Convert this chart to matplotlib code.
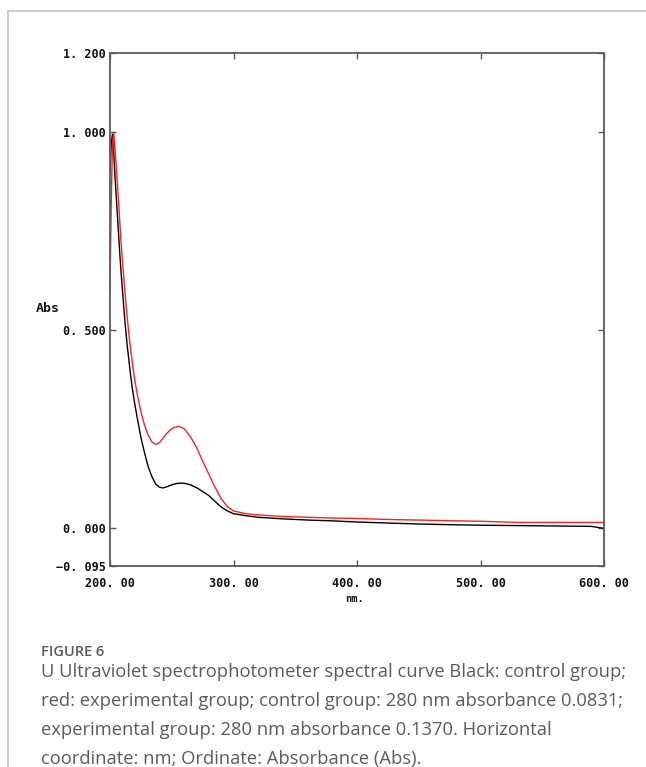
#!/usr/bin/env python3
"""UV spectrophotometer curves: control (black) vs experimental (red)."""

import matplotlib
matplotlib.use("Agg")
import matplotlib.pyplot as plt
from matplotlib.lines import Line2D

W, H = 646, 767

wavelength = [200, 201, 202, 203, 204, 205, 206, 207, 208, 209, 210, 212, 214, 216, 218,
              220, 222, 225, 228, 231, 234, 237, 240, 243, 246, 250, 255, 260, 265, 270,
              275, 280, 285, 290, 295, 300, 310, 320, 340, 360, 380, 400, 430, 450, 480,
              500, 530, 560, 590, 600]
control = [0.90, 0.97, 0.995, 0.95, 0.89, 0.84, 0.79, 0.74, 0.69, 0.645, 0.605, 0.525, 0.46,
           0.405, 0.355, 0.315, 0.28, 0.23, 0.19, 0.155, 0.13, 0.112, 0.104, 0.102, 0.105,
           0.110, 0.114, 0.114, 0.110, 0.103, 0.093, 0.083, 0.068, 0.054, 0.044, 0.037,
           0.032, 0.028, 0.024, 0.021, 0.019, 0.016, 0.013, 0.011, 0.009, 0.008, 0.007,
           0.006, 0.005, 0.0]
experimental = [0.60, 0.82, 0.97, 1.00, 0.96, 0.92, 0.87, 0.82, 0.77, 0.72, 0.68, 0.60, 0.53,
                0.47, 0.42, 0.375, 0.34, 0.295, 0.26, 0.235, 0.218, 0.212, 0.216, 0.228,
                0.24, 0.252, 0.258, 0.252, 0.232, 0.205, 0.17, 0.137, 0.104, 0.075, 0.055,
                0.044, 0.037, 0.034, 0.030, 0.028, 0.026, 0.025, 0.022, 0.021, 0.019, 0.018,
                0.015, 0.015, 0.015, 0.015]

x_ticks = [200, 300, 400, 500, 600]
x_tick_labels = ["200. 00", "300. 00", "400. 00", "500. 00", "600. 00"]
y_ticks = [-0.095, 0.0, 0.5, 1.0, 1.2]
y_tick_labels = ["\u22120. 095", "0. 000", "0. 500", "1. 000", "1. 200"]

caption_head = "FIGURE 6"
caption_body = ("U Ultraviolet spectrophotometer spectral curve Black: control group;\n"
                "red: experimental group; control group: 280 nm absorbance 0.0831;\n"
                "experimental group: 280 nm absorbance 0.1370. Horizontal\n"
                "coordinate: nm; Ordinate: Absorbance (Abs).")


def fx(px):
    return px / W


def fy(py):
    return 1 - py / H


fig = plt.figure(figsize=(W / 100, H / 100), dpi=100)

# page frame: thin grey rule on top and left
fig.add_artist(Line2D([fx(8), 1], [fy(11), fy(11)], color="#c4c4c4", lw=1.2))
fig.add_artist(Line2D([fx(8), fx(8)], [fy(11), 0], color="#c4c4c4", lw=1.2))

ax = fig.add_axes([fx(110), fy(566), fx(604) - fx(110), fy(53) - fy(566)])
ax.plot(wavelength, control, color="black", lw=1.0)
ax.plot(wavelength, experimental, color="#ff2020", lw=1.0)

ax.set_xlim(200, 600)
ax.set_ylim(-0.095, 1.2)
for s in ax.spines.values():
    s.set_color("#5a5a5a")
    s.set_linewidth(1.3)

tick_font = {"family": "DejaVu Sans Mono", "weight": "bold", "size": 8.5}
ax.set_xticks(x_ticks)
ax.set_xticklabels(x_tick_labels, fontdict=tick_font, color="#111111")
ax.set_yticks(y_ticks)
ax.set_yticklabels(y_tick_labels, fontdict=tick_font, color="#111111")
ax.tick_params(direction="in", length=4, width=1, color="#5a5a5a",
               top=True, right=True)
ax.tick_params(axis="x", pad=8)
ax.tick_params(axis="y", pad=3)

fig.text(fx(48), fy(309), "Abs", ha="center", va="center", family="DejaVu Sans Mono",
         weight="bold", size=9.5, color="#111111")
fig.text(fx(354), fy(599), "nm.", ha="center", va="center", family="DejaVu Sans Mono",
         weight="bold", size=7.5, color="#111111")

fig.text(fx(41), fy(652), caption_head, ha="left", va="center", family="Open Sans",
         weight="semibold", size=10.5, color="#5b5b5b")
fig.text(fx(41), fy(663), caption_body, ha="left", va="top", family="Open Sans",
         size=13.2, color="#5b5b5b", linespacing=1.78)

fig.savefig("out.png", dpi=100)
